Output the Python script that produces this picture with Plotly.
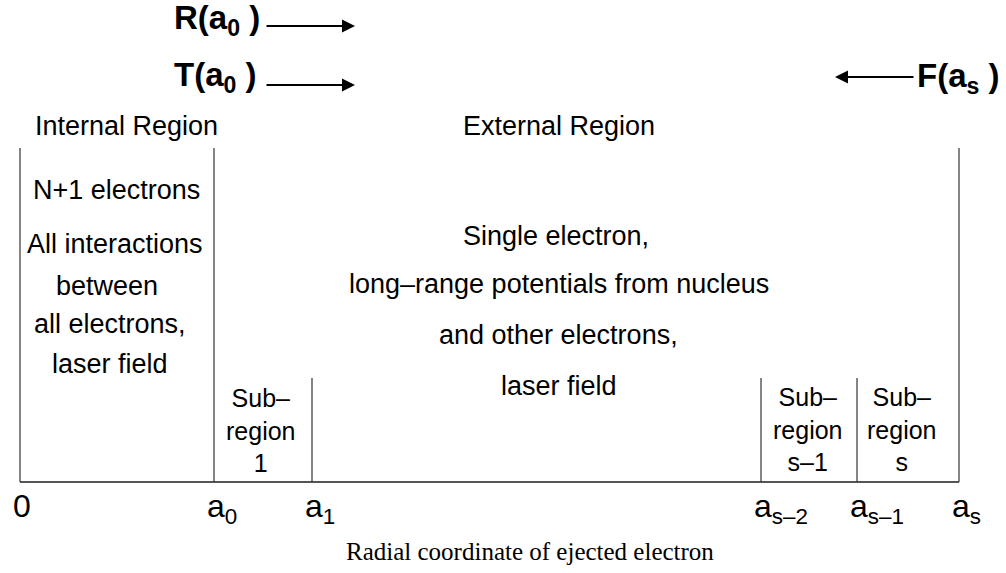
import plotly.graph_objects as go

# ---- schematic data (diagram units ~ pixels of the drawing) ----
boundaries = [20, 214, 312, 761, 857, 959]          # radial boundaries 0, a0, a1, a_{s-2}, a_{s-1}, a_s
boundary_tops = [148, 148, 378, 378, 378, 148]      # top of each boundary line
baseline_level = 482
boundary_labels = ["0", "a<sub>0</sub>", "a<sub>1</sub>", "a<sub>s–2</sub>",
                   "a<sub>s–1</sub>", "a<sub>s</sub>"]

region_titles = ["Internal Region", "External Region"]
region_title_x = [126, 559]
region_title_y = [126, 126]

internal_lines = ["N+1 electrons", "All interactions", "between", "all electrons,", "laser field"]
internal_x = [116, 115, 107, 110, 110]
internal_y = [190, 244, 286, 324, 364]

external_lines = ["Single electron,", "long–range potentials from nucleus",
                  "and other electrons,", "laser field"]
external_x = [556, 559, 558, 559]
external_y = [236, 284, 335, 386]

sub_names = ["Sub–<br>region<br>1", "Sub–<br>region<br>s–1", "Sub–<br>region<br>s"]
sub_x = [261, 808, 902]
sub_y = [430, 429, 429]

flux_labels = ["R(a<sub>0</sub> )", "T(a<sub>0</sub> )", "F(a<sub>s</sub> )"]
flux_label_x = [172, 172, 915]
flux_label_y = [20, 77, 78]
arrow_tail_x = [265, 265, 915]
arrow_head_x = [355, 355, 835]
arrow_y = [26, 85, 77]

axis_title = "Radial coordinate of ejected electron"

SANS = "Liberation Sans, Arial, sans-serif"
SERIF = "Liberation Serif, Times New Roman, serif"

fig = go.Figure()

# baseline
fig.add_trace(go.Scatter(x=[boundaries[0], boundaries[-1]], y=[baseline_level, baseline_level],
                         mode="lines", line=dict(color="#555555", width=2),
                         hoverinfo="skip", showlegend=False))
# boundary lines
for bx, top in zip(boundaries, boundary_tops):
    fig.add_trace(go.Scatter(x=[bx, bx], y=[top, baseline_level], mode="lines",
                             line=dict(color="#333333", width=1.2),
                             hoverinfo="skip", showlegend=False))

annotations = []

def txt(text, x, y, size, family=SANS, xanchor="center", yanchor="middle", xshift=0):
    annotations.append(dict(text=text, x=x, y=y, xref="x", yref="y", showarrow=False,
                            font=dict(family=family, size=size, color="black"),
                            xanchor=xanchor, yanchor=yanchor, xshift=xshift))

for t, x, y in zip(region_titles, region_title_x, region_title_y):
    txt(t, x, y, 27)
for t, x, y in zip(internal_lines, internal_x, internal_y):
    txt(t, x, y, 27)
for t, x, y in zip(external_lines, external_x, external_y):
    txt(t, x, y, 27)
for t, x, y in zip(sub_names, sub_x, sub_y):
    txt(t, x, y, 25)

# boundary tick labels
for bx, lab in zip(boundaries, boundary_labels):
    txt(lab, bx, 486, 32, xanchor="left", yanchor="top", xshift=-9)

# flux labels
for t, x, y in zip(flux_labels, flux_label_x, flux_label_y):
    annotations.append(dict(text="<b>" + t + "</b>", x=x, y=y, xref="x", yref="y",
                            showarrow=False, xanchor="left", yanchor="middle",
                            font=dict(family=SANS, size=33, color="black")))
# arrows
for tx, hx, ay in zip(arrow_tail_x, arrow_head_x, arrow_y):
    annotations.append(dict(text="", x=hx, y=ay, ax=tx, ay=ay, xref="x", yref="y",
                            axref="x", ayref="y", showarrow=True, arrowhead=2,
                            arrowsize=1.3, arrowwidth=2, arrowcolor="black", standoff=0))

txt(axis_title, 530, 551, 25, family=SERIF)

fig.update_layout(
    width=1006, height=573,
    margin=dict(l=0, r=0, t=0, b=0),
    paper_bgcolor="white", plot_bgcolor="white",
    xaxis=dict(range=[0, 1006], visible=False, fixedrange=True),
    yaxis=dict(range=[573, 0], visible=False, fixedrange=True),
    annotations=annotations,
    showlegend=False,
)

fig.write_html("out.html", config={"displayModeBar": False},
               post_script="document.body.style.margin='0';")
